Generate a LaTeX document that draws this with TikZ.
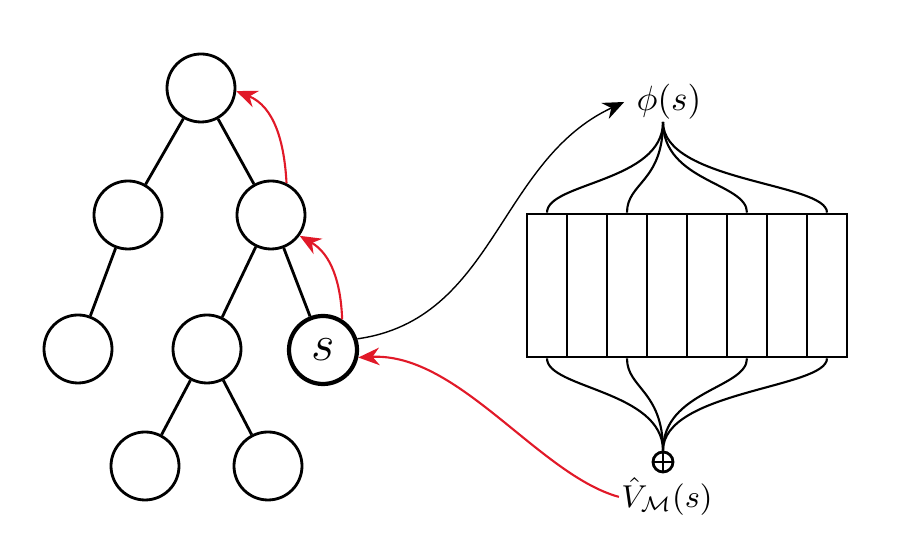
\documentclass[tikz,border=0pt]{standalone}
\usepackage{amsmath, amssymb}
\usepackage{tikz}
\usetikzlibrary{arrows.meta}
\definecolor{backupred}{RGB}{225, 25, 40}

\tikzset{
  treenode/.style={circle, draw, thick, minimum size=0.68cm, inner sep=0pt},
  cell/.style={rectangle, draw, thick, minimum width=0.4cm, minimum height=1.43cm, inner sep=0pt},
  wire/.style={semithick},
  backup/.style={-{Stealth[length=6pt,width=5pt]}, backupred, semithick},
}

\begin{document}
\begin{tikzpicture}
    \useasboundingbox (0,0) rectangle (9,5.4);

    %% search tree
    \node[treenode] (root) at (2.01,4.52) {};
    \node[treenode] (l2a)  at (1.28,3.25) {};
    \node[treenode] (l2b)  at (2.71,3.25) {};
    \node[treenode] (l3a)  at (0.78,1.91) {};
    \node[treenode] (l3b)  at (2.07,1.91) {};
    \node[treenode, very thick, font=\Large] (s) at (3.23,1.90) {$s$};
    \node[treenode] (l4a)  at (1.45,0.74) {};
    \node[treenode] (l4b)  at (2.68,0.74) {};

    \draw[thick] (root) -- (l2a) (root) -- (l2b)
                 (l2a) -- (l3a) (l2b) -- (l3b) (l2b) -- (s)
                 (l3b) -- (l4a) (l3b) -- (l4b);

    %% ensemble of value networks
    \foreach \i in {1,...,8}
      \node[cell] (c\i) at ({5.07+0.4*\i},2.545) {};

    \node (phi) at (6.69,4.38) {$\phi(s)$};
    \coordinate (top) at (6.63,4.18);
    \foreach \i in {1,3,6,8}
      \draw[wire] (c\i.north) .. controls +(0,0.3) and +(0,-0.6) .. (top);

    \node[circle, draw, thick, minimum size=0.2cm, inner sep=0pt,
          path picture={\draw[thick] (path picture bounding box.north) -- (path picture bounding box.south)
                                     (path picture bounding box.west) -- (path picture bounding box.east);}]
      (sum) at (6.63,0.78) {};
    \foreach \i in {1,3,6,8}
      \draw[wire] (c\i.south) .. controls +(0,-0.3) and +(0,0.6) .. (sum.north);
    \node[font=\small, inner sep=0.5pt, anchor=north] (vhat) at (6.67,0.645) {$\hat{V}_{\mathcal{M}}(s)$};

    %% features and backup
    \draw[-{Stealth[length=6pt,width=5pt]}] (s.18) to[out=8,in=205] (phi.west);
    \draw[backup] (vhat.west) .. controls +(-0.8,0.22) and +(1.0,0.05) .. (s.-12);
    \draw[backup] (s.58) to[out=92,in=-30] (l2b.-36);
    \draw[backup] (l2b.64) to[out=93,in=-22] (root.-5);
\end{tikzpicture}
\end{document}
